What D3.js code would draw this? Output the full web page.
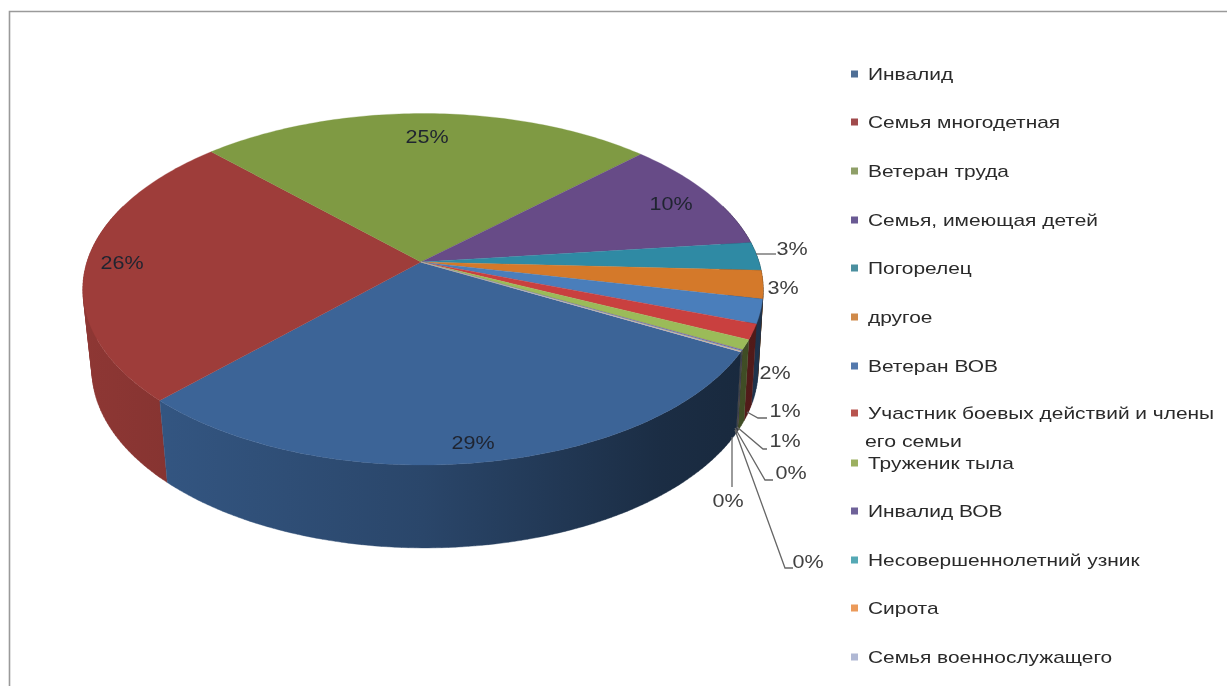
<!DOCTYPE html>
<html lang="ru">
<head>
<meta charset="utf-8">
<script src="https://cdn.jsdelivr.net/npm/d3@7/dist/d3.min.js"></script>
<style>
html,body{margin:0;padding:0;background:#fff;overflow:hidden}
svg{display:block;filter:blur(0.5px)}
text{font-family:"Liberation Sans",Arial,sans-serif}
</style>
</head>
<body>
<svg id="chart" width="1227" height="686"></svg>
<script>
const categories = ["Инвалид","Семья многодетная","Ветеран труда","Семья, имеющая детей","Погорелец","другое","Ветеран ВОВ","Участник боевых действий и члены его семьи","Труженик тыла","Инвалид ВОВ","Несовершеннолетний узник","Сирота","Семья военнослужащего"];
const values = [29.2,25.4,25.1,10.4,2.6,2.6,2.2,1.4,0.9,0.1,0.05,0.03,0.02];
const valueLabels = ["29%","26%","25%","10%","3%","3%","2%","1%","1%","0%","0%","0%","0%"];
const colors = ["#3c6497","#9e3d3a","#7f9a43","#674b87","#2f8aa4","#d4792a","#4a7ebb","#c9403f","#9bbb59","#7d60a0","#4bacc6","#f79646","#b3c0de"];
const legendColors = ["#4f6f96","#a04a4c","#8f9f68","#6a5a94","#4b8f9f","#d08a4a","#5479ad","#b8544f","#9cb060","#6f6299","#55a9b5","#eb9a5a","#b0b8d4"];

// label layout (centre of each data label, and leader polylines)
const labelAt = [[473,443],[122,263],[427,137],[671,204],[792,249],[783,288],[775,373],[785,411],[785,441],[791,473],[728,501],[808,562]];
const leaders = [
  [[756,254],[776,254]],
  [[747,412],[758,418],[767,418]],
  [[737,427],[763,449],[767,449]],
  [[735,428],[765,480],[773,480]],
  [[732,437],[732,487]],
  [[735,430],[785,568],[793,568]]
];
const legendRows = [74,122,171,220,268,317,366,413,463,511,560,608,657];
const textStretch = 1.23;

const svg = d3.select("#chart");
const W = 1227, H = 686;
const defs = svg.append("defs");

// frame
svg.append("path").attr("d",`M9.5,${H} V11.5 H${W}`).attr("fill","none").attr("stroke","#9a9a9a").attr("stroke-width",1.6);

// perspective projection of the pie disc
const P = 0.155;
const project = (plane) => (a) => {
  const u = Math.sin(a), v = -Math.cos(a), w = 1 - P*v;
  return [plane.cx + plane.rx*u/w, plane.cy + plane.ry*v/w];
};
const topPlane = {cx:423, cy:262, rx:336, ry:171.5};
const botPlane = {cx:425, cy:342, rx:329, ry:174};
const pTop = project(topPlane), pBot = project(botPlane);

const deg = Math.PI/180, TAU = 2*Math.PI;
const arcs = d3.pie().sort(null).value(d=>d).startAngle(119*deg).endAngle((119+360)*deg)(values);
const line = d3.line();

// shading of the side wall by horizontal position
const shadeStops = [[-1,0.9],[0,0.7],[0.7,0.45],[1,0.4]];
const mult = (c,k)=>{const r=d3.rgb(c);return d3.rgb(r.r*k,r.g*k,r.b*k).formatHex();};
const xExtent = d3.scaleLinear().domain([-1,1]).range([topPlane.cx-340,topPlane.cx+340]);

colors.forEach((c,i)=>{
  const g = defs.append("linearGradient").attr("id","wall"+i)
    .attr("gradientUnits","userSpaceOnUse")
    .attr("x1",xExtent(-1)).attr("x2",xExtent(1)).attr("y1",0).attr("y2",0);
  shadeStops.forEach(s=>g.append("stop").attr("offset",(s[0]+1)/2).attr("stop-color",mult(c,s[1])));
});

// walls: only the part of each slice that can face the viewer, back to front
const lo = 70*deg, hi = 290*deg;
const walls = [];
arcs.forEach((d,i)=>{
  [0,TAU].forEach(off=>{
    const a0 = Math.max(d.startAngle-off,lo), a1 = Math.min(d.endAngle-off,hi);
    if(a1>a0) walls.push({i,a0,a1,m:(a0+a1)/2});
  });
});
walls.sort((a,b)=>Math.abs(b.m-Math.PI)-Math.abs(a.m-Math.PI));
// each wall is a set of thin quads, all wound the same way so that they never cancel
const wallPath = q=>{
  const n = Math.max(1,Math.ceil((q.a1-q.a0)/deg));
  const s = d3.range(n+1).map(k=>q.a0+(q.a1-q.a0)*k/n);
  return d3.range(n).map(k=>{
    const quad = [pTop(s[k]),pTop(s[k+1]),pBot(s[k+1]),pBot(s[k])];
    if(d3.polygonArea(quad)<0) quad.reverse();
    return line(quad)+"Z";
  }).join("");
};
svg.append("g").selectAll("path").data(walls).join("path")
  .attr("d",wallPath)
  .attr("fill-rule","nonzero")
  .attr("fill",q=>`url(#wall${q.i})`)
  .attr("stroke",q=>`url(#wall${q.i})`)
  .attr("stroke-width",0.4);

// top face
svg.append("g").selectAll("path").data(arcs).join("path")
  .attr("d",d=>{
    const n = Math.max(2,Math.ceil((d.endAngle-d.startAngle)/deg));
    const pts = d3.range(n+1).map(k=>pTop(d.startAngle+(d.endAngle-d.startAngle)*k/n));
    return line([[topPlane.cx-2,topPlane.cy],...pts])+"Z";
  })
  .attr("fill",(d,i)=>colors[i])
  .attr("stroke",(d,i)=>colors[i])
  .attr("stroke-width",0.3);

// leaders
svg.append("g").selectAll("path").data(leaders).join("path")
  .attr("d",d=>line(d)).attr("fill","none").attr("stroke","#666").attr("stroke-width",1.3);

// data labels
svg.append("g").selectAll("text").data(labelAt).join("text")
  .attr("transform",d=>`translate(${d[0]},${d[1]}) scale(${textStretch},1)`)
  .attr("text-anchor","middle").attr("dominant-baseline","central")
  .attr("font-size",17.5).attr("fill",(d,i)=>i<4?"#1f2430":"#404040")
  .text((d,i)=>valueLabels[i]);

// legend
const lg = svg.append("g").selectAll("g").data(categories).join("g")
  .attr("transform",(d,i)=>`translate(851,${legendRows[i]})`);
lg.append("rect").attr("x",0).attr("y",-3.5).attr("width",7).attr("height",7)
  .attr("fill",(d,i)=>legendColors[i]);
lg.each(function(d){
  const g = d3.select(this);
  const cut = d.indexOf(" его семьи");
  const lines = cut>0 ? [d.slice(0,cut),d.slice(cut+1)] : [d];
  lines.forEach((s,k)=>{
    const t = g.append("text").attr("font-size",17).attr("fill","#2a2a2a").attr("dominant-baseline","central").text(s);
    if(k===0) t.attr("transform",`translate(17,0) scale(${textStretch},1)`);
    else t.attr("x",14).attr("y",28).attr("textLength",97).attr("lengthAdjust","spacingAndGlyphs");
  });
});
</script>
</body>
</html>
